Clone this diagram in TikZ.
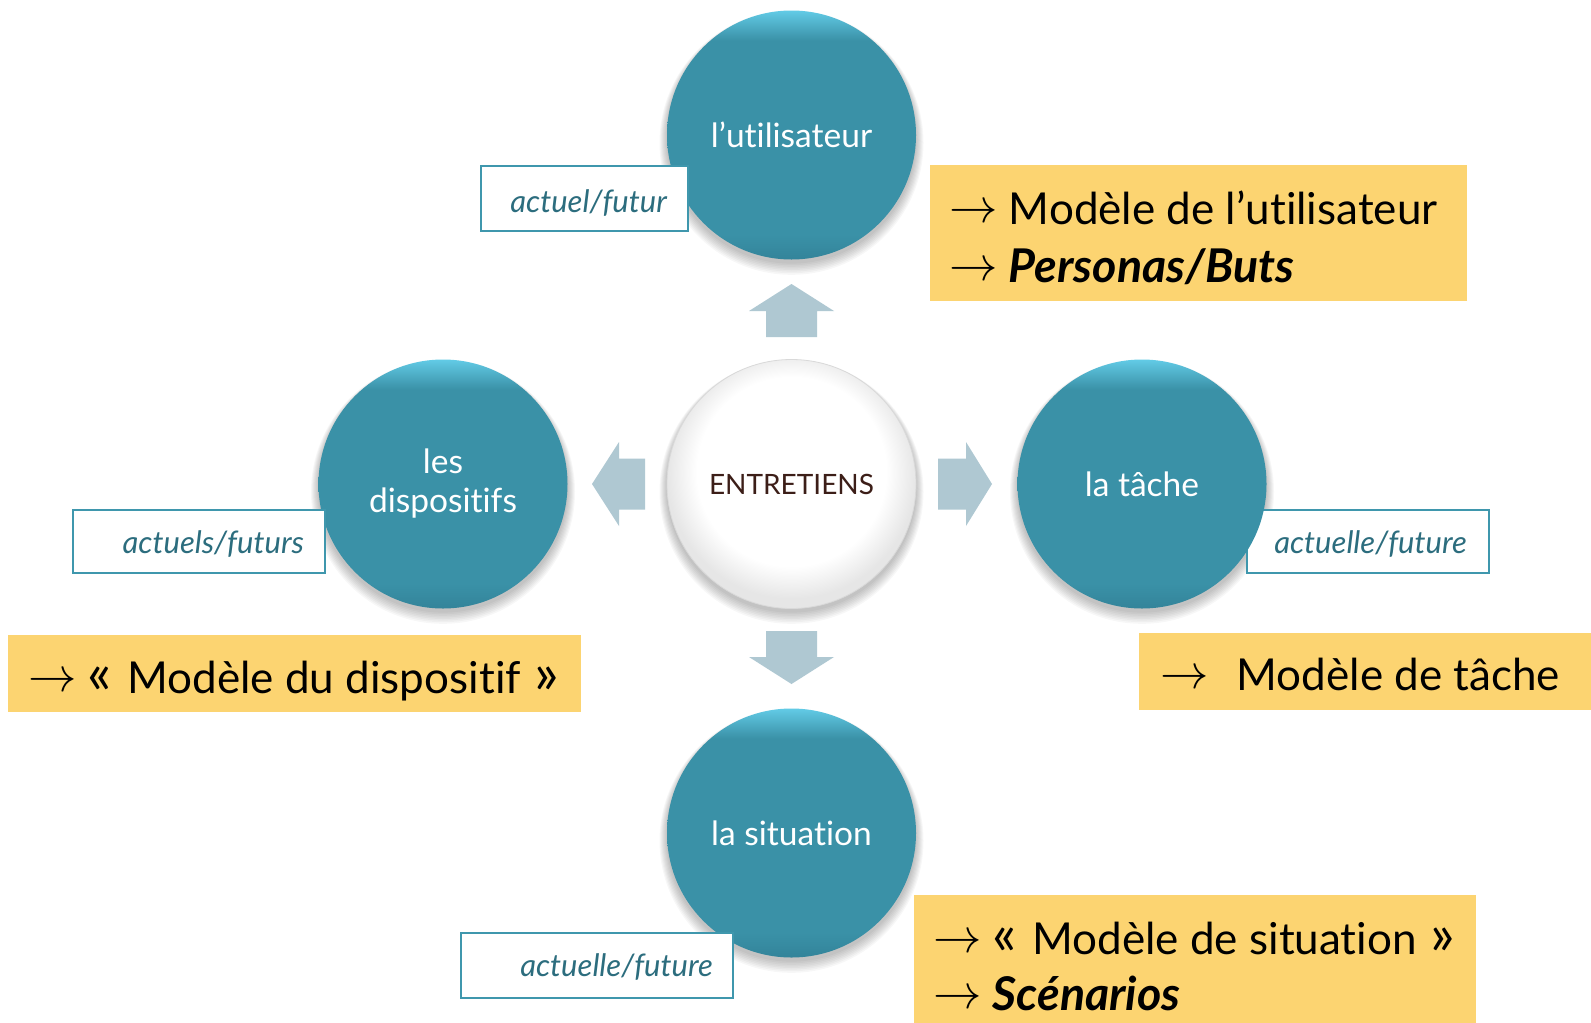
\IfFileExists{fix-cm.sty}{\RequirePackage{fix-cm}}{}
\documentclass[tikz,border=0pt]{standalone}
\usepackage{fontspec}
\setmainfont{Lato}[Ligatures=NoCommon]
\definecolor{tealL}{HTML}{62CBE6}
\definecolor{tealM}{HTML}{3A91A7}
\definecolor{tealD}{HTML}{33849A}
\definecolor{boxline}{HTML}{3F97AD}
\definecolor{labtext}{HTML}{2C6D7E}
\definecolor{yel}{HTML}{FCD471}
\definecolor{arr}{HTML}{AFC8D2}
\definecolor{brownT}{HTML}{3C1E18}
\definecolor{rimgray}{HTML}{E6E6E6}
\pgfdeclareverticalshading{tealball}{100bp}{color(0bp)=(tealD); color(25bp)=(tealD); color(30bp)=(tealM); color(69bp)=(tealM); color(75bp)=(tealL); color(100bp)=(tealL)}
\pgfdeclareradialshading{whiteball}{\pgfpoint{0bp}{4bp}}{color(0bp)=(white); color(19bp)=(white); color(25bp)=(rimgray); color(50bp)=(rimgray)}
\tikzset{
  ball/.style={circle, minimum size=249pt, inner sep=0pt, shading=tealball, text=white,
    font=\fontsize{33.5}{39}\selectfont, align=center},
  core/.style={circle, minimum size=249pt, inner sep=0pt, shading=whiteball, draw=black!15,
    line width=0.8pt, text=brownT, font=\fontsize{28}{34}\selectfont},
  tagbox/.style={draw=boxline, line width=2pt, fill=white},
  tagtext/.style={inner sep=0pt, anchor=base east, text=labtext,
    font=\itshape\fontsize{31}{36}\selectfont},
  notebox/.style={fill=yel},
  notetext/.style={inner sep=0pt, anchor=base west, text=black,
    font=\fontsize{44}{52}\selectfont},
  blockarrow/.style={fill=arr},
  shade1/.style={fill=black, opacity=0.03},
}
\newcommand{\toarr}{\raisebox{2pt}{\scalebox{1.1}{$\rightarrow$}}}
\newcommand{\strongit}[1]{{\bfseries\itshape\fontsize{46.5}{52}\selectfont #1}}
\newcommand{\gopen}{\scalebox{1.3}{«}\hspace{15pt}}
\newcommand{\gclose}{\hspace{14pt}\scalebox{1.3}{»}}
\begin{document}
\begin{tikzpicture}[x=1pt, y=-1pt]
\useasboundingbox (0,0) rectangle (1591,1023);
\fill[white] (0,0) rectangle (1591,1023);

\coordinate (pU) at (791.5,135);
\coordinate (pC) at (791.5,484);
\coordinate (pL) at (443,484);
\coordinate (pR) at (1142,484);
\coordinate (pB) at (791.5,833);

% soft shadows
\foreach \p in {pU,pC,pL,pR,pB}{
  \foreach \k in {1,...,8}{
    \fill[shade1] ([yshift=-3pt-0.6*\k pt]\p) circle ({124pt+\k pt});
  }
}

% tag box behind the right circle
\draw[tagbox] (1247,510) rectangle (1489,573);
\node[tagtext] (tR) at (1467,553) {actuelle/future};

% circles
\node[ball] (uti) at (pU) {l’utilisateur};
\node[core] (cen) at (pC) {ENTRETIENS};
\node[ball] (dis) at (pL) {les\\dispositifs};
\node[ball] (tac) at (pR) {la tâche};
\node[ball] (sit) at (pB) {la situation};

% other tag boxes
\draw[tagbox] (481,166) rectangle (688,231);
\node[tagtext] (tU) at (667,212) {actuel/futur};
\draw[tagbox] (73,510) rectangle (325,573);
\node[tagtext] (tL) at (304,553) {actuels/futurs};
\draw[tagbox] (461,933) rectangle (733,998);
\node[tagtext] (tB) at (713,976) {actuelle/future};

% block arrows
\fill[blockarrow] (766,337) -- (766,311) -- (749,311) -- (791.5,284) -- (834,311) -- (817,311) -- (817,337) -- cycle;
\fill[blockarrow] (766,631) -- (817,631) -- (817,657) -- (834,657) -- (791.5,684) -- (749,657) -- (766,657) -- cycle;
\fill[blockarrow] (645,458.5) -- (619,458.5) -- (619,442) -- (592,484) -- (619,526) -- (619,509.5) -- (645,509.5) -- cycle;
\fill[blockarrow] (938,458.5) -- (966,458.5) -- (966,442) -- (992,484) -- (966,526) -- (966,509.5) -- (938,509.5) -- cycle;

% yellow notes
\fill[notebox] (930,165) rectangle (1467,301);
\node[notetext] (nU1) at (949,224) {\toarr{} Modèle de l’utilisateur};
\node[notetext] (nU2) at (949,282) {\toarr{} \strongit{Personas/Buts}};
\fill[notebox] (8,635) rectangle (581,712);
\node[notetext] (nL) at (28,693) {\toarr{} \gopen Modèle du dispositif\gclose};
\fill[notebox] (1139,633) rectangle (1591,710);
\node[notetext] (nR) at (1160,690) {\toarr\hspace{28pt}Modèle de tâche};
\fill[notebox] (914,895) rectangle (1476,1023);
\node[notetext] (nB1) at (933,954) {\toarr{} \gopen Modèle de situation\gclose};
\node[notetext] (nB2) at (933,1010) {\toarr{} \strongit{Scénarios}};
\end{tikzpicture}
\end{document}
